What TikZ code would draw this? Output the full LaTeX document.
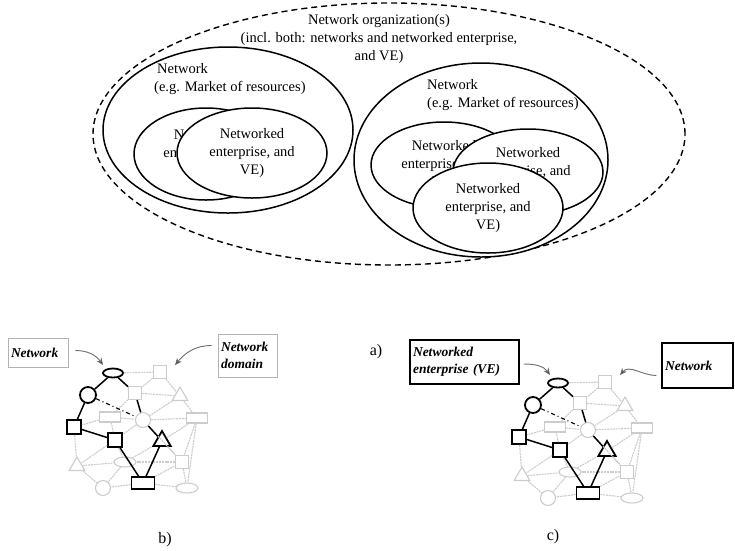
\documentclass[tikz,border=0pt]{standalone}
\usepackage{fontspec}
\setmainfont{Liberation Serif}
\usetikzlibrary{shapes.geometric,arrows.meta}

% one small network, used for b) and c)
\newcommand{\drawnet}{%
  % highlighted nodes
  \node[hiell] (e) at (113,373) {};
  \node[hicirc] (c) at (88,395) {};
  \node[hibox] (s1) at (74,427) {};
  \node[hibox] (s2) at (115,440) {};
  \node[hitri] (t) at (162,441) {};
  \node[hirect] (r) at (143,483) {};
  % faded nodes
  \node[lobox] (g1) at (160,372) {};
  \node[lobox] (g2) at (135,393) {};
  \node[lotri] (g3) at (180,396) {};
  \node[lorect] (g4) at (110,417) {};
  \node[locirc] (g5) at (143,420) {};
  \node[lorect] (g6) at (197,418) {};
  \node[lotri] (g7) at (77,466) {};
  \node[loell] (g8) at (125,462) {};
  \node[lobox] (g9) at (182,462) {};
  \node[locirc] (g10) at (103,488) {};
  \node[loell] (g11) at (187,488) {};
  % faded links
  \foreach \a/\b in {e/g1, g1/g2, g1/g3, g2/g3, g2/g4, g3/g6, g3/g5, g4/g5,
      g5/g6, g5/s2, g4/s1, s1/g7, g4/s2, s2/g8, s2/g7, g7/g8, g7/g10, g8/g10,
      g8/g9, g8/t, t/g6, t/g9, g6/g9, g6/g11, g9/g11, r/g9, r/g11, r/g10, g5/g9}
    \draw[lolink] (\a) -- (\b);
  % highlighted links
  \foreach \a/\b in {e/c, e/g2, g2/g5, g5/t, c/s1, s1/s2, s2/r, t/r}
    \draw[hilink] (\a) -- (\b);
  \draw[hilink, dash pattern=on 4pt off 3pt on 1pt off 3pt, line width=1.1pt] (c) -- (g5);
}

\begin{document}
\begin{tikzpicture}[
  x=1pt, y=-1pt,
  txt/.style={font=\fontsize{14.5}{18}\selectfont, inner sep=0},
  blob/.style={ellipse, draw, line width=1.5pt, inner sep=0, fill=white}, % ellipses of a)
  hiell/.style={ellipse, draw, line width=1.8pt, minimum width=20pt, minimum height=9pt, inner sep=0, fill=white},
  hicirc/.style={circle, draw, line width=1.8pt, minimum size=16pt, inner sep=0, fill=white},
  hibox/.style={rectangle, draw, line width=1.8pt, minimum size=14pt, inner sep=0, fill=white},
  hirect/.style={rectangle, draw, line width=1.8pt, minimum width=23pt, minimum height=12pt, inner sep=0, fill=white},
  hitri/.style={regular polygon, regular polygon sides=3, draw, line width=1.8pt, minimum size=20pt, inner sep=0, fill=white},
  loell/.style={hiell, draw=gray!40, line width=1.1pt, minimum width=22pt, minimum height=10pt},
  locirc/.style={hicirc, draw=gray!40, line width=1.1pt, minimum size=15pt},
  lobox/.style={hibox, draw=gray!40, line width=1.1pt, minimum size=13pt},
  lorect/.style={hirect, draw=gray!40, line width=1.1pt, minimum width=21pt, minimum height=10pt},
  lotri/.style={hitri, draw=gray!40, line width=1.1pt, minimum size=18pt},
  lolink/.style={draw=gray!40, line width=1.1pt, dash pattern=on 2pt off 0.8pt},
  hilink/.style={draw=black, line width=1.5pt},
  callbox/.style={draw, align=left, inner sep=3pt, font=\fontsize{13.5}{17}\selectfont\bfseries\itshape},
  pointer/.style={draw=gray!85!black, line width=0.9pt, -{Stealth[length=7pt,width=6pt,fill=black]}},
  caption/.style={font=\fontsize{16}{18}\selectfont}
]
  \useasboundingbox (0,0) rectangle (735,550);

  % a)
  \node[blob, dashed, dash pattern=on 6pt off 4pt, line width=1.4pt, fill=none,
    minimum width=592pt, minimum height=262pt] (org) at (389,134) {};
  \node[txt, align=center] (orgtxt) at (379,39)
    {Network organization(s)\\(incl. both: networks and networked enterprise,\\and VE)};

  \node[blob, minimum width=250pt, minimum height=166pt] (netL) at (228,130) {};
  \node[txt, align=left, anchor=west] (netLtxt) at (154,79)
    {\hspace*{3pt}Network\\(e.g. Market of resources)};
  \node[blob, minimum width=144pt, minimum height=92pt, align=center,
    font=\fontsize{14.5}{18}\selectfont] (veL1) at (206,154)
    {Networked\\enterprise, and\\VE)};
  \node[blob, minimum width=150pt, minimum height=90pt, align=center,
    font=\fontsize{14.5}{18}\selectfont] (veL2) at (252,153)
    {Networked\\enterprise, and\\VE)};

  \node[blob, minimum width=254pt, minimum height=194pt] (netR) at (481,160) {};
  \node[txt, align=left, anchor=west] (netRtxt) at (427,95)
    {Network\\(e.g. Market of resources)};
  \node[blob, minimum width=146pt, minimum height=86pt, align=center,
    font=\fontsize{14.5}{18}\selectfont] (veR1) at (444,165)
    {Networked\\enterprise, and\\VE)};
  \node[blob, minimum width=150pt, minimum height=86pt, align=center,
    font=\fontsize{14.5}{18}\selectfont] (veR2) at (528,172)
    {Networked\\enterprise, and\\VE)};
  \node[blob, minimum width=150pt, minimum height=90pt, align=center,
    font=\fontsize{14.5}{18}\selectfont] (veR3) at (488,208)
    {Networked\\enterprise, and\\VE)};

  \node[caption] (capa) at (376,352) {a)};

  % b)
  \begin{scope}[name prefix=b-]
    \drawnet
  \end{scope}
  \node[callbox, draw=gray!60, line width=0.8pt, text width=54pt, minimum height=29pt] (bnet) at (38,352.5) {Network};
  \node[callbox, draw=gray!60, line width=0.8pt, text width=53pt, minimum height=43pt] (bdom) at (247.5,355.5) {Network\\domain};
  \coordinate (btip1) at (103,365);
  \coordinate (btip2) at (175,365);
  \draw[pointer] ([xshift=7pt,yshift=2pt]bnet.east) to[out=0, in=125] (btip1);
  \draw[pointer] ([xshift=-6pt,yshift=10pt]bdom.west) to[out=180, in=50] (btip2);
  \node[caption] (capb) at (165,540) {b)};

  % c)
  \begin{scope}[shift={(445,10)}, name prefix=c-]
    \drawnet
  \end{scope}
  \node[callbox, line width=1.3pt, text width=103pt, minimum height=44pt] (cve) at (464.5,362) {Networked\\enterprise (VE)};
  \node[callbox, line width=1.3pt, text width=65pt, minimum height=45pt] (cnet) at (697.5,365.5) {Network};
  \coordinate (ctip1) at (550,375);
  \coordinate (ctip2) at (620,375);
  \draw[pointer] ([xshift=4pt,yshift=-2pt]cve.east) to[out=0, in=125] (ctip1);
  \draw[pointer] ([xshift=-5pt,yshift=-10pt]cnet.west) to[out=180, in=50] (ctip2);
  \node[caption] (capc) at (553,537) {c)};
\end{tikzpicture}
\end{document}
